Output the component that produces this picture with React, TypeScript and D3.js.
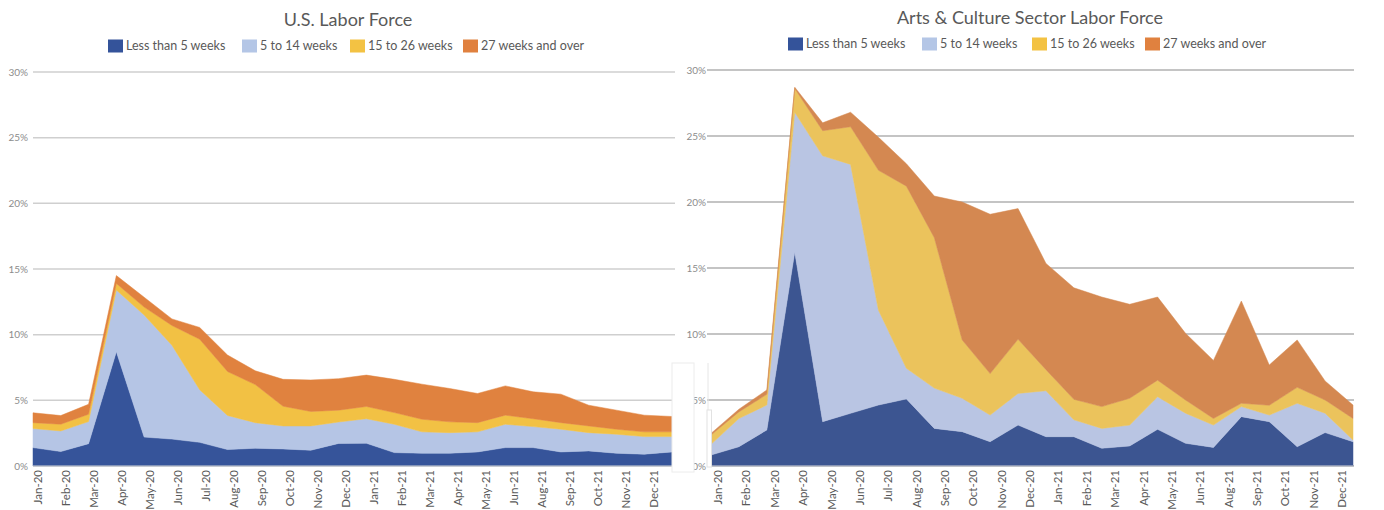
import React from "react";
import * as d3 from "d3";

// Monthly data points (Jan-20 .. Dec-21)
const months = [
  "Jan-20", "Feb-20", "Mar-20", "Apr-20", "May-20", "Jun-20", "Jul-20", "Aug-20",
  "Sep-20", "Oct-20", "Nov-20", "Dec-20", "Jan-21", "Feb-21", "Mar-21", "Apr-21",
  "May-21", "Jun-21", "Jul-21", "Aug-21", "Sep-21", "Oct-21", "Nov-21", "Dec-21",
];

// Category labels printed under the axis
const tickLabels = [
  "Jan-20", "Feb-20", "Mar-20", "Apr-20", "May-20", "Jun-20", "Jul-20", "Aug-20",
  "Sep-20", "Oct-20", "Nov-20", "Dec-20", "Jan-21", "Feb-21", "Mar-21", "Apr-21",
  "May-21", "Jun-21", "Aug-21", "Sep-21", "Oct-21", "Nov-21", "Dec-21",
];

const seriesNames = ["Less than 5 weeks", "5 to 14 weeks", "15 to 26 weeks", "27 weeks and over"];

const yTicks = [0, 5, 10, 15, 20, 25, 30];

// U.S. labor force, unemployment share by duration (%)
const usUnder5 = [1.4, 1.1, 1.7, 8.7, 2.2, 2.05, 1.8, 1.25, 1.35, 1.3, 1.2, 1.72, 1.73, 1.02, 0.97, 0.97, 1.07, 1.4, 1.4, 1.07, 1.15, 0.97, 0.9, 1.07];
const us5to14 = [1.45, 1.57, 1.68, 4.7, 9.3, 7.15, 4.0, 2.6, 1.95, 1.75, 1.85, 1.63, 1.87, 2.16, 1.63, 1.57, 1.53, 1.78, 1.6, 1.73, 1.39, 1.45, 1.34, 1.17];
const us15to26 = [0.45, 0.51, 0.56, 0.5, 0.6, 1.5, 3.85, 3.35, 2.9, 1.5, 1.1, 0.9, 0.93, 0.89, 0.96, 0.82, 0.7, 0.69, 0.6, 0.5, 0.51, 0.38, 0.36, 0.36];
const us27plus = [0.75, 0.66, 0.76, 0.6, 0.75, 0.5, 0.9, 1.25, 1.05, 2.05, 2.4, 2.4, 2.39, 2.53, 2.67, 2.54, 2.22, 2.23, 2.05, 2.17, 1.58, 1.45, 1.27, 1.17];

// Arts & culture sector labor force, unemployment share by duration (%)
const artsUnder5 = [0.83, 1.46, 2.73, 16.2, 3.36, 3.99, 4.62, 5.08, 2.85, 2.6, 1.84, 3.1, 2.22, 2.22, 1.34, 1.52, 2.78, 1.72, 1.41, 3.74, 3.36, 1.46, 2.53, 1.84];
const arts5to14 = [0.81, 2.14, 1.89, 10.6, 20.14, 18.86, 7.18, 2.32, 3.05, 2.53, 2.02, 2.4, 3.48, 1.28, 1.51, 1.58, 2.47, 2.28, 1.69, 0.76, 0.5, 3.29, 1.47, 0.13];
const arts15to26 = [0.71, 0.5, 0.81, 1.8, 1.9, 2.85, 10.6, 13.8, 11.4, 4.42, 3.14, 4.1, 1.6, 1.55, 1.65, 2.03, 1.25, 1.0, 0.5, 0.25, 0.74, 1.21, 1.0, 1.63];
const arts27plus = [0.12, 0.2, 0.33, 0.1, 0.6, 1.1, 2.5, 1.7, 3.15, 10.45, 12.07, 9.9, 8.05, 8.45, 8.3, 7.12, 6.3, 5.05, 4.4, 7.75, 3.05, 3.59, 1.44, 1.02];

const legendColors = ["#34539a", "#b4c6e6", "#f3c243", "#e0813f"];

const keys = ["under5", "w5to14", "w15to26", "w27plus"];

type Layout = {
  title: string;
  series: number[][];
  colors: string[];
  left: number;
  right: number;
  top: number;
  bottom: number;
  gridLeft: number;
  gridRight: number;
  gridColor: string;
  gridWidth: number;
  yLabelX: number;
  labelStartPad: number;
  labelEndPad: number;
  titleX: number;
  titleY: number;
  legendY: number;
  legendX: number[];
};

const FONT = "Lato, 'Open Sans', sans-serif";

function StackedArea({ cfg }: { cfg: Layout }) {
  const x = d3.scaleLinear().domain([0, months.length - 1]).range([cfg.left, cfg.right]);
  const y = d3.scaleLinear().domain([0, 30]).range([cfg.bottom, cfg.top]);

  const rows = months.map((m, i) => {
    const r: any = { month: m };
    keys.forEach((k, j) => (r[k] = cfg.series[j][i]));
    return r;
  });
  const stacked = d3.stack<any>().keys(keys)(rows);
  const area = d3
    .area<any>()
    .x((_, i) => x(i))
    .y0((d) => y(d[0]))
    .y1((d) => y(d[1]));

  const labelScale = d3
    .scalePoint<string>()
    .domain(tickLabels)
    .range([x(0) + cfg.labelStartPad, x(tickLabels.length - 1) + cfg.labelEndPad]);

  const pct = (v: number) => d3.format(".0%")(v / 100);

  return (
    <g>
      <text
        x={cfg.titleX}
        y={cfg.titleY}
        textAnchor="middle"
        fontFamily={FONT}
        fontSize={18}
        fill="#595959"
      >
        {cfg.title}
      </text>
      {seriesNames.map((name, i) => (
        <g key={name} transform={`translate(${cfg.legendX[i]},${cfg.legendY})`}>
          <rect x={0} y={-6.5} width={15} height={13} fill={legendColors[i]} />
          <text x={18} y={0} dy="0.35em" fontFamily={FONT} fontSize={12.5} fill="#595959">
            {name}
          </text>
        </g>
      ))}
      {yTicks.map((t) => (
        <g key={t}>
          <line
            x1={cfg.gridLeft}
            x2={cfg.gridRight}
            y1={y(t)}
            y2={y(t)}
            stroke={cfg.gridColor}
            strokeWidth={cfg.gridWidth}
          />
          <text
            x={cfg.yLabelX}
            y={y(t)}
            dy="0.35em"
            textAnchor="end"
            fontFamily={FONT}
            fontSize={10}
            fill="#8c8c8c"
          >
            {pct(t)}
          </text>
        </g>
      ))}
      {stacked.map((s, i) => (
        <path
          key={s.key}
          d={area(s as any) || ""}
          fill={cfg.colors[i]}
          stroke={cfg.colors[i]}
          strokeWidth={0.5}
          strokeLinejoin="round"
        />
      ))}
      <line x1={cfg.left} x2={cfg.right} y1={y(0)} y2={y(0)} stroke="#d9d9d9" strokeWidth={1} />
      {tickLabels.map((lab) => (
        <text
          key={lab}
          transform={`translate(${labelScale(lab)},${cfg.bottom + 4}) rotate(-90)`}
          textAnchor="end"
          dy="0.35em"
          fontFamily={FONT}
          fontSize={11.5}
          fill="#595959"
        >
          {lab}
        </text>
      ))}
    </g>
  );
}

const usLayout: Layout = {
  title: "U.S. Labor Force",
  series: [usUnder5, us5to14, us15to26, us27plus],
  colors: ["#36549a", "#b5c5e5", "#f2c144", "#e0823f"],
  left: 33,
  right: 672,
  top: 72,
  bottom: 466,
  gridLeft: 33,
  gridRight: 675,
  gridColor: "#cfcfcf",
  gridWidth: 1.5,
  yLabelX: 28,
  labelStartPad: 5,
  labelEndPad: 10,
  titleX: 348,
  titleY: 26,
  legendY: 46,
  legendX: [108, 242, 350, 463],
};

const artsLayout: Layout = {
  title: "Arts & Culture Sector Labor Force",
  series: [artsUnder5, arts5to14, arts15to26, arts27plus],
  colors: ["#3c5591", "#b9c5e3", "#ebc35c", "#d48851"],
  left: 711,
  right: 1353,
  top: 70,
  bottom: 466,
  gridLeft: 707,
  gridRight: 1354,
  gridColor: "#c4c4c4",
  gridWidth: 1.8,
  yLabelX: 706,
  labelStartPad: 7,
  labelEndPad: 17,
  titleX: 1030,
  titleY: 24,
  legendY: 44,
  legendX: [788, 922, 1032, 1145],
};

export default function App() {
  return (
    <svg
      width={1384}
      height={510}
      style={{ position: "absolute", left: 0, top: 0, background: "#fff" }}
    >
      <rect width={1384} height={510} fill="#ffffff" />
      <StackedArea cfg={usLayout} />
      <StackedArea cfg={artsLayout} />
      {/* pasted panel edges between the two charts */}
      <rect x={672} y={363} width={22} height={109} fill="#ffffff" stroke="#ececec" strokeWidth={1} />
      <line x1={708} x2={708} y1={363} y2={410} stroke="#e6e6e6" strokeWidth={1} />
      <rect x={707} y={410} width={4.5} height={57} fill="#ffffff" stroke="#e2e2e2" strokeWidth={1} />
    </svg>
  );
}
